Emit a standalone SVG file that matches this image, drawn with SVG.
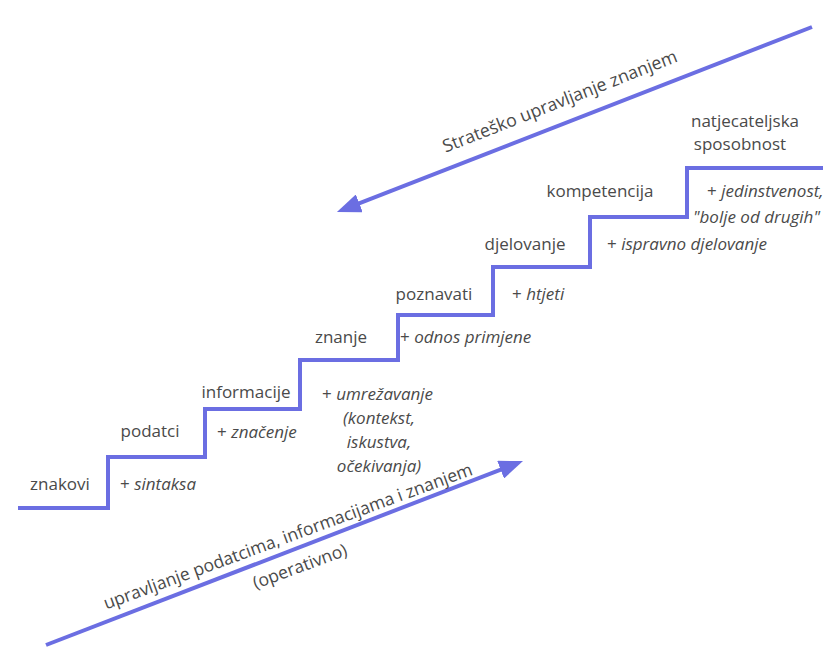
<svg xmlns="http://www.w3.org/2000/svg" width="837" height="654" viewBox="0 0 837 654">
<style>
  .lbl { font-family: "Open Sans", "Noto Sans", "DejaVu Sans", sans-serif; font-size: 17px; fill: #4a4a4a; }
  .mid { text-anchor: middle; }
  .it { font-style: italic; }
  .rot { font-family: "Open Sans", "Noto Sans", "DejaVu Sans", sans-serif; font-size: 17.5px; fill: #4a4a4a; text-anchor: middle; }
  .stair { fill: none; stroke: #6b6ee2; stroke-width: 4; stroke-linejoin: miter; }
  .arrow { fill: none; stroke: #6b6ee2; stroke-width: 4; stroke-linecap: butt; marker-end: url(#head); }
</style>
<defs>
  <marker id="head" markerUnits="userSpaceOnUse" markerWidth="25" markerHeight="19" refX="3" refY="9.5" orient="auto">
    <path d="M0,0 L24,9.5 L0,19 z" fill="#6b6ee2"/>
  </marker>
</defs>
<rect width="837" height="654" fill="#ffffff"/>

<g id="connectors">
  <polyline id="stairs" class="stair" points="18,508 108,508 108,457 205,457 205,409 300,409 300,360 398,360 398,315 493,315 493,267 590,267 590,217 687,217 687,168 823,168"/>
  <line id="arrow-strategic" class="arrow" x1="812" y1="27" x2="356.5" y2="204.4"/>
  <line id="arrow-operative" class="arrow" x1="46" y1="645" x2="503.4" y2="468.6"/>
</g>

<g id="strateško">
  <text class="rot" style="font-size:17.8px" transform="translate(562,107) rotate(-21.5)">Strateško upravljanje znanjem</text>
</g>
<g id="operativno">
  <text class="rot" transform="translate(290,542) rotate(-20.2)">upravljanje podatcima, informacijama i znanjem</text>
  <text class="rot" transform="translate(302,572) rotate(-20.2)">(operativno)</text>
</g>

<g id="znakovi">
  <text class="lbl mid" x="60" y="490">znakovi</text>
  <text class="lbl" x="120" y="490">+ <tspan class="it">sintaksa</tspan></text>
</g>
<g id="podatci">
  <text class="lbl mid" x="150" y="437">podatci</text>
  <text class="lbl" x="217" y="438">+ <tspan class="it">značenje</tspan></text>
</g>
<g id="informacije">
  <text class="lbl mid" x="246" y="398">informacije</text>
  <text class="lbl" x="322" y="400">+ <tspan class="it">umrežavanje</tspan></text>
  <text class="lbl it mid" x="379" y="424">(kontekst,</text>
  <text class="lbl it mid" x="379" y="448">iskustva,</text>
  <text class="lbl it mid" x="379" y="472">očekivanja)</text>
</g>
<g id="znanje">
  <text class="lbl mid" x="341" y="343">znanje</text>
  <text class="lbl" x="400" y="343">+ <tspan class="it">odnos primjene</tspan></text>
</g>
<g id="poznavati">
  <text class="lbl mid" x="434" y="300">poznavati</text>
  <text class="lbl" x="512" y="300">+ <tspan class="it">htjeti</tspan></text>
</g>
<g id="djelovanje">
  <text class="lbl mid" x="525" y="250">djelovanje</text>
  <text class="lbl" x="607" y="250">+ <tspan class="it">ispravno djelovanje</tspan></text>
</g>
<g id="kompetencija">
  <text class="lbl mid" x="600" y="197">kompetencija</text>
  <text class="lbl" x="707" y="197">+ <tspan class="it">jedinstvenost,</tspan></text>
  <text class="lbl it" x="693" y="223">"bolje od drugih"</text>
</g>
<g id="natjecateljska">
  <text class="lbl mid" x="745" y="127">natjecateljska</text>
  <text class="lbl mid" x="740" y="150">sposobnost</text>
</g>
</svg>
